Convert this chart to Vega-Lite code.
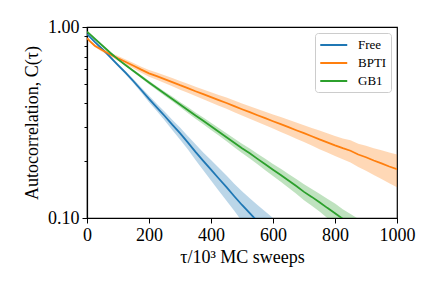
{
  "$schema": "https://vega.github.io/schema/vega-lite/v6.json",
  "width": 310,
  "height": 191,
  "autosize": "none",
  "padding": {"left": 87, "top": 27, "right": 39, "bottom": 73},
  "background": "white",
  "config": {
    "view": {"stroke": "black", "strokeWidth": 1.2},
    "axis": {
      "grid": false,
      "labelFont": "Liberation Serif",
      "titleFont": "Liberation Serif",
      "labelFontSize": 18,
      "titleFontSize": 18,
      "titleFontWeight": "normal",
      "labelColor": "black",
      "titleColor": "black",
      "domainColor": "black",
      "domainWidth": 1.2,
      "tickColor": "black",
      "tickWidth": 1
    },
    "legend": {
      "labelFont": "Liberation Serif",
      "labelFontSize": 13,
      "labelColor": "black"
    }
  },
  "data": {"values": [
    {"s":"Free","t":0,"c":0.92,"lo":0.915,"hi":0.925},
    {"s":"Free","t":10,"c":0.885,"lo":0.88,"hi":0.89},
    {"s":"Free","t":25,"c":0.835,"lo":0.829,"hi":0.841},
    {"s":"Free","t":50,"c":0.765,"lo":0.758,"hi":0.772},
    {"s":"Free","t":75,"c":0.695,"lo":0.686,"hi":0.704},
    {"s":"Free","t":100,"c":0.632,"lo":0.622,"hi":0.642},
    {"s":"Free","t":125,"c":0.575,"lo":0.564,"hi":0.586},
    {"s":"Free","t":150,"c":0.52,"lo":0.507,"hi":0.533},
    {"s":"Free","t":175,"c":0.468,"lo":0.454,"hi":0.482},
    {"s":"Free","t":200,"c":0.42,"lo":0.404,"hi":0.436},
    {"s":"Free","t":225,"c":0.38,"lo":0.363,"hi":0.397},
    {"s":"Free","t":250,"c":0.343,"lo":0.325,"hi":0.361},
    {"s":"Free","t":275,"c":0.308,"lo":0.289,"hi":0.327},
    {"s":"Free","t":300,"c":0.278,"lo":0.258,"hi":0.298},
    {"s":"Free","t":325,"c":0.249,"lo":0.229,"hi":0.269},
    {"s":"Free","t":350,"c":0.222,"lo":0.201,"hi":0.243},
    {"s":"Free","t":375,"c":0.199,"lo":0.178,"hi":0.22},
    {"s":"Free","t":400,"c":0.179,"lo":0.157,"hi":0.201},
    {"s":"Free","t":425,"c":0.161,"lo":0.139,"hi":0.183},
    {"s":"Free","t":450,"c":0.145,"lo":0.123,"hi":0.167},
    {"s":"Free","t":475,"c":0.13,"lo":0.109,"hi":0.151},
    {"s":"Free","t":500,"c":0.117,"lo":0.096,"hi":0.138},
    {"s":"Free","t":525,"c":0.106,"lo":0.085,"hi":0.127},
    {"s":"Free","t":550,"c":0.096,"lo":0.075,"hi":0.117},
    {"s":"Free","t":575,"c":0.086,"lo":0.064,"hi":0.108},
    {"s":"Free","t":600,"c":0.078,"lo":0.056,"hi":0.1},
    {"s":"Free","t":625,"c":0.07,"lo":0.048,"hi":0.092},
    {"s":"BPTI","t":0,"c":0.875,"lo":0.865,"hi":0.885},
    {"s":"BPTI","t":10,"c":0.84,"lo":0.829,"hi":0.851},
    {"s":"BPTI","t":25,"c":0.798,"lo":0.785,"hi":0.811},
    {"s":"BPTI","t":50,"c":0.755,"lo":0.74,"hi":0.77},
    {"s":"BPTI","t":75,"c":0.718,"lo":0.701,"hi":0.735},
    {"s":"BPTI","t":100,"c":0.685,"lo":0.666,"hi":0.704},
    {"s":"BPTI","t":125,"c":0.656,"lo":0.636,"hi":0.676},
    {"s":"BPTI","t":150,"c":0.627,"lo":0.606,"hi":0.648},
    {"s":"BPTI","t":175,"c":0.598,"lo":0.576,"hi":0.62},
    {"s":"BPTI","t":200,"c":0.572,"lo":0.549,"hi":0.595},
    {"s":"BPTI","t":225,"c":0.553,"lo":0.529,"hi":0.577},
    {"s":"BPTI","t":250,"c":0.534,"lo":0.509,"hi":0.559},
    {"s":"BPTI","t":275,"c":0.515,"lo":0.49,"hi":0.54},
    {"s":"BPTI","t":300,"c":0.496,"lo":0.47,"hi":0.522},
    {"s":"BPTI","t":325,"c":0.479,"lo":0.453,"hi":0.505},
    {"s":"BPTI","t":350,"c":0.461,"lo":0.435,"hi":0.487},
    {"s":"BPTI","t":375,"c":0.445,"lo":0.419,"hi":0.471},
    {"s":"BPTI","t":400,"c":0.429,"lo":0.402,"hi":0.456},
    {"s":"BPTI","t":425,"c":0.414,"lo":0.387,"hi":0.441},
    {"s":"BPTI","t":450,"c":0.4,"lo":0.373,"hi":0.427},
    {"s":"BPTI","t":475,"c":0.385,"lo":0.358,"hi":0.412},
    {"s":"BPTI","t":500,"c":0.371,"lo":0.344,"hi":0.398},
    {"s":"BPTI","t":525,"c":0.358,"lo":0.331,"hi":0.385},
    {"s":"BPTI","t":550,"c":0.345,"lo":0.318,"hi":0.372},
    {"s":"BPTI","t":575,"c":0.333,"lo":0.306,"hi":0.36},
    {"s":"BPTI","t":600,"c":0.321,"lo":0.294,"hi":0.348},
    {"s":"BPTI","t":625,"c":0.31,"lo":0.282,"hi":0.338},
    {"s":"BPTI","t":650,"c":0.299,"lo":0.271,"hi":0.327},
    {"s":"BPTI","t":675,"c":0.288,"lo":0.26,"hi":0.316},
    {"s":"BPTI","t":700,"c":0.278,"lo":0.25,"hi":0.306},
    {"s":"BPTI","t":725,"c":0.268,"lo":0.24,"hi":0.296},
    {"s":"BPTI","t":750,"c":0.258,"lo":0.229,"hi":0.287},
    {"s":"BPTI","t":775,"c":0.249,"lo":0.22,"hi":0.278},
    {"s":"BPTI","t":800,"c":0.24,"lo":0.211,"hi":0.269},
    {"s":"BPTI","t":825,"c":0.232,"lo":0.203,"hi":0.261},
    {"s":"BPTI","t":850,"c":0.225,"lo":0.195,"hi":0.255},
    {"s":"BPTI","t":875,"c":0.215,"lo":0.185,"hi":0.245},
    {"s":"BPTI","t":900,"c":0.208,"lo":0.177,"hi":0.239},
    {"s":"BPTI","t":925,"c":0.2,"lo":0.168,"hi":0.232},
    {"s":"BPTI","t":950,"c":0.193,"lo":0.16,"hi":0.226},
    {"s":"BPTI","t":975,"c":0.186,"lo":0.152,"hi":0.22},
    {"s":"BPTI","t":1000,"c":0.18,"lo":0.145,"hi":0.215},
    {"s":"GB1","t":0,"c":0.945,"lo":0.94,"hi":0.95},
    {"s":"GB1","t":10,"c":0.915,"lo":0.91,"hi":0.92},
    {"s":"GB1","t":25,"c":0.868,"lo":0.863,"hi":0.873},
    {"s":"GB1","t":50,"c":0.798,"lo":0.792,"hi":0.804},
    {"s":"GB1","t":75,"c":0.733,"lo":0.726,"hi":0.74},
    {"s":"GB1","t":100,"c":0.677,"lo":0.669,"hi":0.685},
    {"s":"GB1","t":125,"c":0.631,"lo":0.623,"hi":0.639},
    {"s":"GB1","t":150,"c":0.589,"lo":0.58,"hi":0.598},
    {"s":"GB1","t":175,"c":0.549,"lo":0.539,"hi":0.559},
    {"s":"GB1","t":200,"c":0.512,"lo":0.501,"hi":0.523},
    {"s":"GB1","t":225,"c":0.479,"lo":0.468,"hi":0.49},
    {"s":"GB1","t":250,"c":0.448,"lo":0.436,"hi":0.46},
    {"s":"GB1","t":275,"c":0.42,"lo":0.408,"hi":0.432},
    {"s":"GB1","t":300,"c":0.393,"lo":0.381,"hi":0.405},
    {"s":"GB1","t":325,"c":0.368,"lo":0.355,"hi":0.381},
    {"s":"GB1","t":350,"c":0.344,"lo":0.331,"hi":0.357},
    {"s":"GB1","t":375,"c":0.323,"lo":0.31,"hi":0.336},
    {"s":"GB1","t":400,"c":0.302,"lo":0.289,"hi":0.315},
    {"s":"GB1","t":425,"c":0.283,"lo":0.27,"hi":0.296},
    {"s":"GB1","t":450,"c":0.265,"lo":0.252,"hi":0.278},
    {"s":"GB1","t":475,"c":0.248,"lo":0.235,"hi":0.261},
    {"s":"GB1","t":500,"c":0.232,"lo":0.219,"hi":0.245},
    {"s":"GB1","t":525,"c":0.218,"lo":0.205,"hi":0.231},
    {"s":"GB1","t":550,"c":0.204,"lo":0.191,"hi":0.217},
    {"s":"GB1","t":575,"c":0.191,"lo":0.178,"hi":0.204},
    {"s":"GB1","t":600,"c":0.179,"lo":0.166,"hi":0.192},
    {"s":"GB1","t":625,"c":0.168,"lo":0.155,"hi":0.181},
    {"s":"GB1","t":650,"c":0.157,"lo":0.144,"hi":0.17},
    {"s":"GB1","t":675,"c":0.147,"lo":0.134,"hi":0.16},
    {"s":"GB1","t":700,"c":0.137,"lo":0.124,"hi":0.15},
    {"s":"GB1","t":725,"c":0.129,"lo":0.116,"hi":0.142},
    {"s":"GB1","t":750,"c":0.121,"lo":0.108,"hi":0.134},
    {"s":"GB1","t":775,"c":0.113,"lo":0.1,"hi":0.126},
    {"s":"GB1","t":800,"c":0.106,"lo":0.093,"hi":0.119},
    {"s":"GB1","t":825,"c":0.099,"lo":0.087,"hi":0.111},
    {"s":"GB1","t":850,"c":0.093,"lo":0.081,"hi":0.105},
    {"s":"GB1","t":875,"c":0.087,"lo":0.075,"hi":0.099},
    {"s":"GB1","t":900,"c":0.081,"lo":0.069,"hi":0.093}
  ]},
  "encoding": {
    "x": {
      "field": "t", "type": "quantitative",
      "scale": {"domain": [0, 1000], "nice": false},
      "axis": {
        "values": [0, 200, 400, 600, 800, 1000],
        "format": "d",
        "title": "τ/10³ MC sweeps",
        "tickSize": 5,
        "labelPadding": 3,
        "titlePadding": 4,
        "labelFlush": false
      }
    },
    "color": {
      "field": "s", "type": "nominal",
      "scale": {"domain": ["Free", "BPTI", "GB1"], "range": ["#1f77b4", "#ff7f0e", "#2ca02c"]},
      "legend": {
        "title": null,
        "orient": "top-right",
        "offset": 6,
        "symbolType": "M-1,0H3",
        "symbolSize": 182,
        "symbolStrokeWidth": 2,
        "symbolOpacity": 1,
        "labelOffset": 23,
        "fillColor": "rgba(255,255,255,0.8)",
        "strokeColor": "#cccccc",
        "cornerRadius": 3,
        "padding": 4,
        "rowPadding": 3
      }
    }
  },
  "layer": [
    {
      "mark": {"type": "area", "opacity": 0.3, "clip": true},
      "encoding": {
        "y": {
          "field": "lo", "type": "quantitative",
          "scale": {"type": "log", "domain": [0.1, 1], "nice": false},
          "axis": {
            "values": [0.1, 0.2, 0.3, 0.4, 0.5, 0.6, 0.7, 0.8, 0.9, 1],
            "labelExpr": "datum.value < 0.15 || datum.value > 0.95 ? format(datum.value, '.2f') : ''",
            "tickSize": {"condition": {"test": "datum.value < 0.15 || datum.value > 0.95", "value": 5}, "value": 3},
            "title": "Autocorrelation, C(τ)",
            "labelPadding": 3,
            "titlePadding": 6,
            "labelFlush": false
          }
        },
        "y2": {"field": "hi"}
      }
    },
    {
      "mark": {"type": "line", "strokeWidth": 1.8, "clip": true},
      "encoding": {
        "y": {"field": "c", "type": "quantitative"}
      }
    }
  ]
}
